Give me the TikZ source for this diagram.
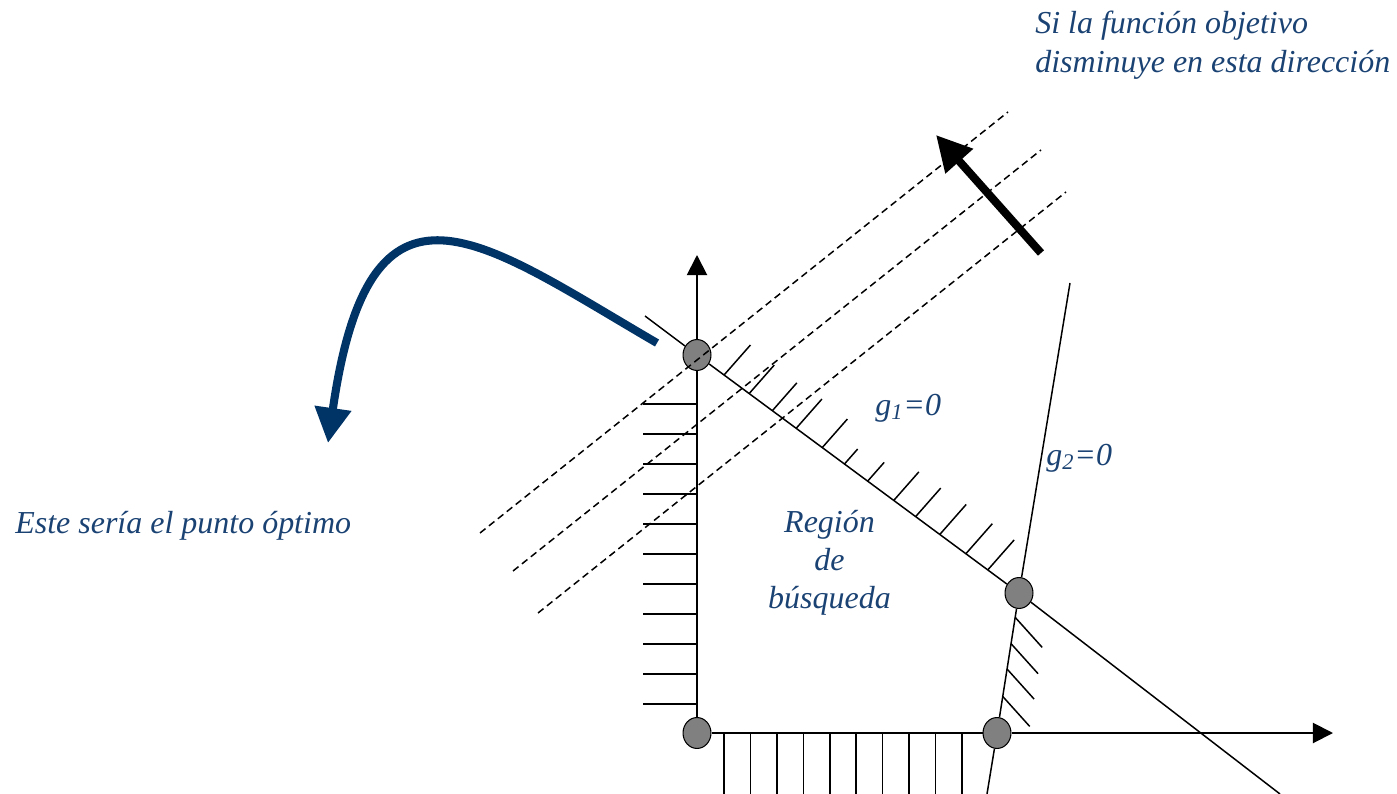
\documentclass[tikz,border=0pt]{standalone}
\usepackage{fontspec}
\setmainfont{Liberation Serif}
\usetikzlibrary{arrows.meta,calc,backgrounds,shapes.geometric}
\definecolor{labelblue}{HTML}{1A4273}
\definecolor{pointerblue}{HTML}{003366}
\definecolor{vertexgray}{HTML}{808080}
\tikzset{
  vertex/.style={
    ellipse,
    draw=black,
    line width=0.6pt,
    fill=vertexgray,
    minimum width=15.9pt,
    minimum height=17.6pt,
    inner sep=0pt
  },
  constraint/.style={line width=0.85pt, draw=black},
  axis/.style={line width=1.1pt, -{Triangle[length=11.4pt,width=11.4pt]}},
  hatch/.style={line width=0.85pt},
  level/.style={line width=0.85pt, dash pattern=on 4pt off 2.5pt},
  direction/.style={line width=4.6pt, -{Triangle[length=20pt,width=20pt]}},
  pointer/.style={line width=4.6pt, draw=pointerblue, -{Triangle[length=20pt,width=20pt]}},
  lbl/.style={text=labelblue, font=\fontsize{18.2}{21.6}\selectfont\itshape, inner sep=0pt}
}

\begin{document}
\begin{tikzpicture}[x=0.02cm, y=-0.02cm]
\useasboundingbox (0,0) rectangle (1397,794);

% Vertices of the search region
\node[vertex] (A) at (697,733) {};
\node[vertex] (B) at (697,355) {};
\node[vertex] (C) at (1019,593) {};
\node[vertex] (D) at (997,733) {};

\coordinate (ytip) at (697,255);
\coordinate (xtip) at (1333,733);
\coordinate (g1top) at (645,316);
\coordinate (g1end) at (1280,794);
\coordinate (g2top) at (1070,283);
\coordinate (g2end) at (987,794);

\begin{pgfonlayer}{background}
  % Axes
  \draw[axis] (A) -- (B) -- (ytip);
  \draw[axis] (A) -- (D) -- (xtip);
  % Constraints g1 = 0 and g2 = 0
  \draw[constraint] (g1top) -- (B) -- (C) -- (g1end);
  \draw[constraint] (g2top) -- (C) -- (D) -- (g2end);
\end{pgfonlayer}

% Hatching of the excluded sides
\foreach \y in {404,434,...,704}
  \draw[hatch] (643,\y) -- (697,\y);
\foreach \i in {0,...,9}
  \draw[hatch] (724+26.44*\i,733) -- ++(0,61);
\foreach \t/\l in {0.084/40,0.162/38,0.234/37,0.308/39,0.389/38,0.458/20,
                   0.530/25,0.611/38,0.679/38,0.754/40,0.835/40,0.903/40}
  \draw[hatch] ($(B.center)!\t!(C.center)$) -- ++({0.66*\l},{-0.75*\l});
\foreach \t in {0.174,0.362,0.543,0.739}
  \draw[hatch] ($(C.center)!\t!(D.center)$) -- ++(27,30);

% Level lines of the objective function
\foreach \x/\y in {480/533,513/571,538/613}
  \draw[level] (\x,\y) -- ++(528,-421);

% Direction of decrease
\coordinate (dirstart) at (1041,253);
\coordinate (dirtip) at (936,135);
\draw[direction] (dirstart) -- (dirtip);

% Pointer to the optimum
\coordinate (optstart) at (657,343);
\coordinate (opttip) at (328,443);
\draw[pointer] (optstart) .. controls (480,240) and (370,150) .. (opttip);

% Labels
\node[lbl, anchor=base west] (obj1) at (1035,34) {Si la función objetivo};
\node[lbl, anchor=base west] (obj2) at (1035,73) {disminuye en esta dirección};
\node[lbl, anchor=base west] (opt) at (15,533) {Este sería el punto óptimo};
\node[lbl, anchor=base west] (g1lbl) at (875,415) {g\textsubscript{1}=0};
\node[lbl, anchor=base west] (g2lbl) at (1046,465) {g\textsubscript{2}=0};
\node[lbl, align=center, anchor=base] (region) at (829.5,608) {Región\\de\\búsqueda};

\end{tikzpicture}
\end{document}
